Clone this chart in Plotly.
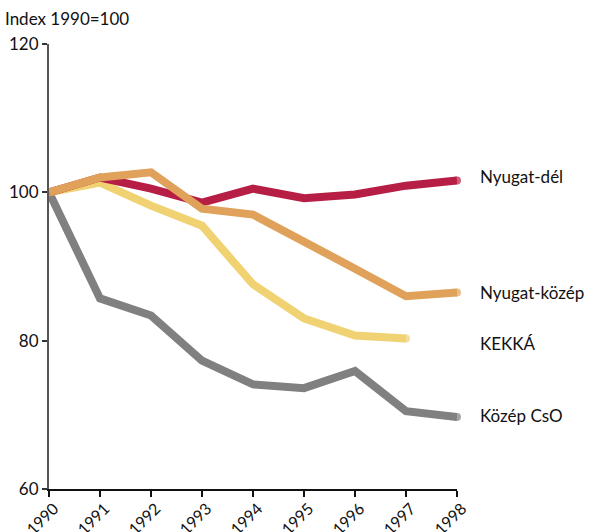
import plotly.graph_objects as go

years = [1990, 1991, 1992, 1993, 1994, 1995, 1996, 1997, 1998]
nyugat_del = [100, 102.0, 100.5, 98.6, 100.5, 99.2, 99.7, 100.9, 101.6]
nyugat_kozep = [100, 102.0, 102.7, 97.8, 97.0, 93.5, 89.7, 86.0, 86.5]
kekka = [100, 101.3, 98.2, 95.5, 87.6, 83.0, 80.7, 80.3]
kozep_cso = [100, 85.7, 83.4, 77.3, 74.1, 73.6, 75.9, 70.5, 69.7]

series_names = ["Nyugat-dél", "Nyugat-közép", "KEKKÁ", "Közép CsO"]
series_values = [nyugat_del, nyugat_kozep, kekka, kozep_cso]
series_colors = ["#B71E45", "#E0A25A", "#F0D273", "#808080"]
label_y = [102.2, 86.5, 79.6, 69.9]
y_ticks = [60, 80, 100, 120]

FONT = "Lato, Open Sans, sans-serif"

fig = go.Figure()
# drawing order, bottom to top: gray, yellow, red, orange
order = [3, 2, 0, 1]
for i in order:
    vals = series_values[i]
    xs = years[:len(vals)]
    sizes = [0] * (len(vals) - 1) + [8]
    fig.add_trace(go.Scatter(
        x=xs, y=vals, mode="lines+markers",
        line=dict(color=series_colors[i], width=8),
        marker=dict(size=sizes, color=series_colors[i], line=dict(width=0)),
        name=series_names[i], showlegend=False, cliponaxis=False,
    ))

for name, ly in zip(series_names, label_y):
    fig.add_annotation(
        x=years[-1], y=ly, xref="x", yref="y", text=name, showarrow=False,
        xanchor="left", yanchor="middle", xshift=21,
        font=dict(family=FONT, size=17, color="#111111"),
    )

fig.add_annotation(
    x=0, y=1, xref="paper", yref="paper", text="Index 1990=100",
    showarrow=False, xanchor="left", yanchor="bottom", xshift=-46, yshift=13,
    font=dict(family=FONT, size=17, color="#111111"),
)

fig.update_layout(
    width=594, height=532,
    margin=dict(l=49, r=137, t=44, b=43, autoexpand=False),
    paper_bgcolor="white", plot_bgcolor="white",
    font=dict(family=FONT, size=17, color="#111111"),
)
fig.update_xaxes(
    range=[1990, 1998], tickvals=years, ticktext=[str(y) for y in years],
    tickangle=-45, showgrid=False, zeroline=False, automargin=False,
    showline=True, linecolor="#111111", linewidth=2,
    ticks="outside", ticklen=6, tickcolor="#111111", tickwidth=1.5,
    ticklabelstandoff=-4, ticklabelshift=5,
    tickfont=dict(family=FONT, size=16, color="#111111"),
)
fig.update_yaxes(
    range=[60, 120], tickvals=y_ticks, showgrid=False, zeroline=False, automargin=False,
    showline=True, linecolor="#555555", linewidth=2,
    ticks="outside", ticklen=5, tickcolor="#333333", tickwidth=1.5,
    tickfont=dict(family=FONT, size=17, color="#111111"),
)

fig.write_html(
    "out.html",
    config={"displayModeBar": False},
    post_script="document.body.style.margin='0px';document.body.style.overflow='hidden';",
)
